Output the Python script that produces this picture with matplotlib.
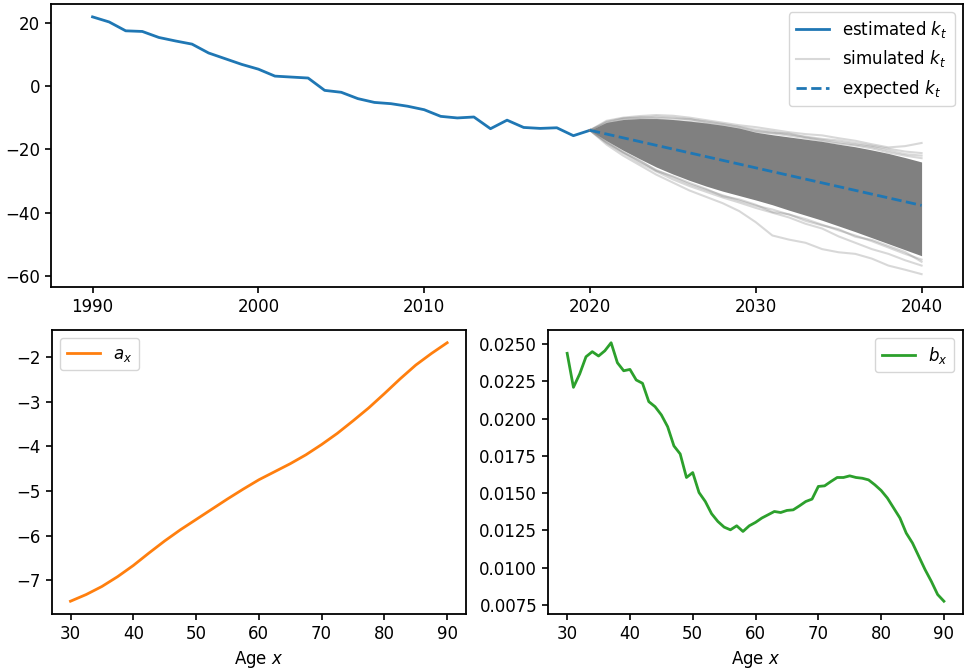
import numpy as np
import matplotlib
matplotlib.use('Agg')
import matplotlib.pyplot as plt

"""
Lee-Carter style plot: estimated / simulated / expected k_t
on top, a_x and b_x by age below.
"""

# estimated k_t, 1990..2020
est_years = np.arange(1990, 2021)
est_kt = [21.8, 20.2, 17.4, 17.2, 15.3, 14.2, 13.2, 10.4, 8.6, 6.8,
          5.3, 3.1, 2.8, 2.5, -1.4, -2.0, -4.0, -5.2, -5.6, -6.4,
          -7.5, -9.6, -10.1, -9.8, -13.5, -10.8, -13.1, -13.4, -13.2, -15.7,
          -14.0]

# expected k_t (straight drift line)
exp_years = [2020, 2040]
exp_kt = [-14.0, -37.7]

# simulated k_t, 2020..2040: dense band + a few edge paths
sim_years = np.arange(2020, 2041)
sim_upper = [-14.0, -11.5, -10.6, -10.3, -10.3, -10.6, -11.1, -11.7, -12.4, -13.3,
             -14.6, -15.4, -16.1, -16.8, -17.5, -18.4, -19.2, -20.2, -21.3, -22.6, -24.0]
sim_lower = [-14.0, -17.3, -20.3, -23.0, -25.6, -27.8, -29.8, -31.6, -33.2, -34.6,
             -36.0, -37.5, -39.2, -40.8, -42.4, -44.2, -46.0, -47.9, -49.8, -51.7, -53.6]
sim_paths = [
    [-14.0, -11.0, -10.0, -9.5, -9.2, -9.4, -10.0, -10.8, -11.6, -12.4,
     -13.0, -13.8, -14.6, -15.2, -15.6, -16.5, -17.3, -18.4, -19.4, -19.0, -18.0],
    [-14.0, -11.6, -10.4, -10.1, -9.7, -10.0, -10.6, -11.2, -12.0, -12.9,
     -13.8, -14.4, -15.3, -16.0, -16.7, -17.2, -18.0, -18.9, -19.8, -20.7, -21.2],
    [-14.0, -12.0, -10.9, -10.5, -10.6, -11.0, -11.3, -12.0, -12.8, -13.6,
     -14.5, -15.0, -15.7, -16.5, -17.4, -18.2, -18.8, -19.7, -21.0, -22.0, -22.8],
    [-14.0, -11.3, -10.2, -9.9, -10.1, -10.3, -10.4, -11.5, -12.2, -13.0,
     -14.2, -14.8, -15.0, -16.2, -17.0, -17.8, -18.5, -19.2, -20.4, -21.5, -22.0],
    [-14.0, -18.5, -22.0, -25.0, -28.0, -30.5, -33.0, -35.0, -37.0, -39.5,
     -43.0, -47.2, -48.5, -49.5, -51.5, -52.5, -53.0, -54.5, -56.7, -58.0, -59.4],
    [-14.0, -18.0, -21.2, -24.3, -27.0, -29.5, -31.6, -33.4, -35.2, -36.8,
     -38.5, -40.0, -41.5, -43.5, -45.0, -47.5, -49.5, -51.5, -53.0, -55.0, -56.7],
    [-14.0, -17.8, -20.8, -23.8, -26.5, -28.8, -31.0, -32.8, -34.5, -36.2,
     -37.8, -39.0, -40.6, -42.0, -43.8, -45.6, -47.2, -49.0, -51.0, -53.0, -54.8],
    [-14.0, -17.6, -21.0, -23.5, -26.8, -28.5, -30.6, -32.5, -34.8, -35.8,
     -37.5, -39.8, -40.5, -42.6, -44.0, -45.2, -47.6, -48.6, -50.5, -52.4, -55.5],
]

# a_x by age
ax_age = [30, 32.5, 35, 37.5, 40, 42.5, 45, 47.5, 50, 52.5, 55, 57.5, 60,
          62.5, 65, 67.5, 70, 72.5, 75, 77.5, 80, 82.5, 85, 87.5, 90]
ax_val = [-7.47, -7.32, -7.14, -6.92, -6.67, -6.39, -6.12, -5.87, -5.64,
          -5.41, -5.18, -4.96, -4.75, -4.57, -4.39, -4.19, -3.96, -3.71,
          -3.43, -3.14, -2.82, -2.49, -2.18, -1.92, -1.68]

# b_x by age, 30..90
bx_age = np.arange(30, 91)
bx_val = [0.02438, 0.02210, 0.02300, 0.02415, 0.02449, 0.02420, 0.02455, 0.02509,
          0.02375, 0.02321, 0.02330, 0.02259, 0.02237, 0.02114, 0.02080, 0.02025,
          0.01946, 0.01817, 0.01763, 0.01605, 0.01638, 0.01504, 0.01444, 0.01362,
          0.01310, 0.01272, 0.01254, 0.01281, 0.01243, 0.01281, 0.01304, 0.01333,
          0.01355, 0.01377, 0.01370, 0.01384, 0.01388, 0.01415, 0.01444, 0.01460,
          0.01545, 0.01549, 0.01578, 0.01605, 0.01605, 0.01616, 0.01605, 0.01600,
          0.01589, 0.01556, 0.01518, 0.01467, 0.01400, 0.01333, 0.01232, 0.01165,
          0.01076, 0.00987, 0.00908, 0.00820, 0.00775]

plt.rcParams['font.size'] = 12
plt.rcParams['lines.linewidth'] = 2.0
plt.rcParams['axes.linewidth'] = 1.3
plt.rcParams['xtick.major.size'] = 4.5
plt.rcParams['ytick.major.size'] = 4.5
plt.rcParams['xtick.major.width'] = 1.2
plt.rcParams['ytick.major.width'] = 1.2

fig = plt.figure(figsize=(9.64, 6.69), dpi=100)
ax1 = fig.add_axes([0.053, 0.571, 0.946, 0.423])
ax2 = fig.add_axes([0.0536, 0.082, 0.4298, 0.425])
ax3 = fig.add_axes([0.5688, 0.082, 0.4299, 0.425])

# top panel
ax1.plot(est_years, est_kt, color='tab:blue', label='estimated $k_t$')
ax1.fill_between(sim_years, sim_lower, sim_upper, color='grey', lw=0)
for k, path in enumerate(sim_paths):
    ax1.plot(sim_years, path, color='grey', alpha=0.3, lw=1.5,
             label='simulated $k_t$' if k == 0 else None)
ax1.plot(exp_years, exp_kt, '--', color='tab:blue', label='expected $k_t$')
ax1.set_xticks([1990, 2000, 2010, 2020, 2030, 2040])
ax1.set_yticks([-60, -40, -20, 0, 20])
ax1.legend(loc='upper right')

# a_x
ax2.plot(ax_age, ax_val, color='tab:orange', label='$a_x$')
ax2.set_xlabel('Age $x$')
ax2.set_xticks(range(30, 91, 10))
ax2.legend(loc='upper left')

# b_x
ax3.plot(bx_age, bx_val, color='tab:green', label='$b_x$')
ax3.set_xlabel('Age $x$')
ax3.set_xticks(range(30, 91, 10))
bx_ticks = [0.0075, 0.0100, 0.0125, 0.0150, 0.0175, 0.0200, 0.0225, 0.0250]
ax3.set_yticks(bx_ticks)
ax3.set_yticklabels([f'{t:.4f}' for t in bx_ticks])
ax3.legend(loc='upper right')

fig.savefig('out.png', dpi=100)
